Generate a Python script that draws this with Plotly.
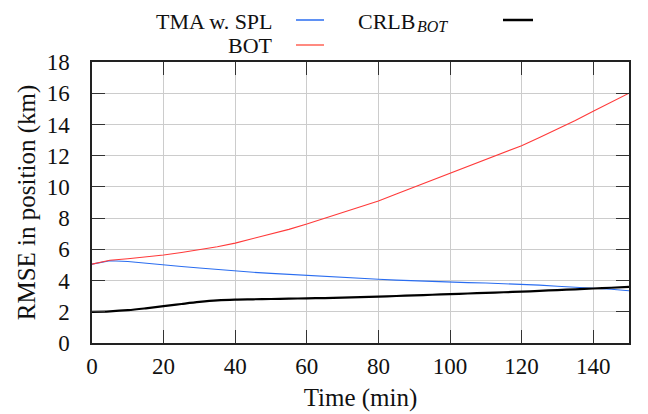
import plotly.graph_objects as go

# ---- data ----
time_min = [0, 5, 10, 15, 20, 25, 30, 35, 40, 45, 50, 55, 60, 65, 70, 75, 80, 85, 90, 95,
            100, 105, 110, 115, 120, 125, 130, 135, 140, 145, 150]
tma_spl = [5.05, 5.27, 5.22, 5.10, 5.00, 4.90, 4.80, 4.70, 4.60, 4.53, 4.46, 4.39, 4.33, 4.26,
           4.20, 4.14, 4.08, 4.03, 3.98, 3.94, 3.90, 3.87, 3.84, 3.80, 3.78, 3.71, 3.64, 3.58,
           3.50, 3.44, 3.35]
bot = [5.05, 5.30, 5.40, 5.50, 5.64, 5.80, 5.98, 6.17, 6.40, 6.68, 6.97, 7.28, 7.62, 7.98,
       8.35, 8.72, 9.10, 9.54, 9.98, 10.42, 10.86, 11.30, 11.74, 12.19, 12.64, 13.17, 13.70,
       14.26, 14.85, 15.43, 16.00]
crlb_bot = [2.00, 2.03, 2.10, 2.22, 2.36, 2.50, 2.63, 2.73, 2.78, 2.80, 2.82, 2.84, 2.86, 2.88,
            2.91, 2.94, 2.97, 3.01, 3.05, 3.09, 3.13, 3.17, 3.21, 3.25, 3.29, 3.34, 3.39, 3.44,
            3.49, 3.54, 3.59]
x_ticks = [0, 20, 40, 60, 80, 100, 120, 140]
y_ticks = [0, 2, 4, 6, 8, 10, 12, 14, 16, 18]
legend_labels = ["TMA w. SPL", "CRLB", "BOT", "BOT"]  # last: subscript of CRLB

# ---- styling ----
OFF = 8  # page body margin
W, H = 648 - OFF, 414 - OFF
L, R, T, B = 92 - OFF, 629 - OFF, 62 - OFF, 343 - OFF
FONT = "Liberation Serif, DejaVu Serif, serif"
BLUE, RED, BLACK = "#2a6df0", "#ff3a3a", "#000000"
TXT = "#111111"

fig = go.Figure()
fig.add_trace(go.Scatter(x=time_min, y=tma_spl, mode="lines", line=dict(color=BLUE, width=1.1),
                         name=legend_labels[0], showlegend=False))
fig.add_trace(go.Scatter(x=time_min, y=bot, mode="lines", line=dict(color=RED, width=1.1),
                         name=legend_labels[2], showlegend=False))
fig.add_trace(go.Scatter(x=time_min, y=crlb_bot, mode="lines", line=dict(color=BLACK, width=2.2, shape="spline"),
                         name="CRLB_BOT", showlegend=False))

axis_common = dict(
    showgrid=True, gridcolor="#cccccc", gridwidth=1,
    showline=True, linecolor="#222222", linewidth=1.5, mirror="ticks",
    ticks="inside", ticklen=13, tickwidth=1.2, tickcolor="#333333",
    zeroline=False, automargin=False,
    tickfont=dict(family=FONT, size=23, color=TXT),
)
fig.update_xaxes(range=[0, 150], tickvals=x_ticks, ticklabelstandoff=2,
                 title=dict(text="Time (min)", font=dict(family=FONT, size=25, color=TXT), standoff=10),
                 **axis_common)
fig.update_yaxes(range=[0, 18], tickvals=y_ticks, ticklabelstandoff=16,
                 title=dict(text="RMSE in position (km)", font=dict(family=FONT, size=25, color=TXT), standoff=4),
                 **axis_common)

def px(xp):
    return (xp - OFF - L) / (R - L)

def py(yp):
    return (B - (yp - OFF)) / (B - T)

annotations = [
    dict(text=legend_labels[0], x=px(274), y=py(21.5), xanchor="right", yanchor="middle", size=22),
    dict(text=legend_labels[1], x=px(357), y=py(21.5), xanchor="left", yanchor="middle", size=22),
    dict(text="<i>" + legend_labels[3] + "</i>", x=px(416), y=py(26.5), xanchor="left", yanchor="middle", size=16),
    dict(text=legend_labels[2], x=px(274), y=py(46), xanchor="right", yanchor="middle", size=22),
]
anns = []
for a in annotations:
    size = a.pop("size")
    a.update(xref="paper", yref="paper", showarrow=False, borderpad=0,
             font=dict(family=FONT, size=size, color=TXT))
    anns.append(a)
fig.update_layout(annotations=anns)

for (x0, x1, yy, col, w) in [(296, 324, 20, BLUE, 1.5), (503, 533, 20, BLACK, 2.5), (296, 324, 45, "#ff8a80", 2)]:
    fig.add_shape(type="line", xref="paper", yref="paper", x0=px(x0), x1=px(x1), y0=py(yy), y1=py(yy),
                  line=dict(color=col, width=w))

fig.update_layout(
    width=W, height=H,
    margin=dict(l=L, r=W - R, t=T, b=H - B, pad=0),
    plot_bgcolor="white", paper_bgcolor="white",
    font=dict(family=FONT, color=TXT),
)

fig.write_html("out.html")
